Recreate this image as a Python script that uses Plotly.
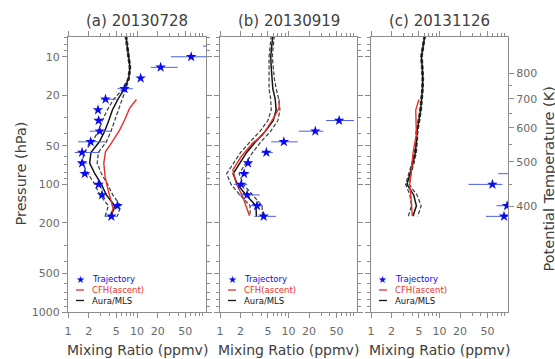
import plotly.graph_objects as go

# ---------------- data ----------------
mls_p = [6.81, 8.25, 10, 12.1, 14.7, 17.8, 21.5, 26.1, 31.6, 38.3, 46.4, 56.2, 68.1, 82.5, 100, 121, 147, 178]

mls_a = [6.9, 7.2, 7.5, 7.9, 7.6, 6.6, 5.3, 4.4, 3.9, 3.4, 2.85, 2.15, 2.06, 2.45, 3.05, 3.6, 4.75, 4.25]
mls_a_lo = [6.7, 7.0, 7.3, 7.7, 7.4, 6.3, 4.6, 3.7, 3.15, 2.75, 2.25, 1.7, 1.62, 1.95, 2.45, 2.9, 3.85, 3.45]
mls_a_hi = [7.1, 7.4, 7.7, 8.1, 7.8, 6.9, 6.0, 5.3, 4.8, 4.2, 3.6, 2.75, 2.65, 3.05, 3.75, 4.45, 5.8, 5.2]

mls_b = [5.9, 5.7, 5.5, 5.6, 5.7, 5.9, 6.4, 6.6, 6.0, 4.6, 3.3, 2.45, 1.95, 1.55, 1.8, 2.4, 3.35, 3.4]
mls_b_lo = [5.6, 5.4, 5.2, 5.2, 5.2, 5.2, 5.5, 5.6, 5.0, 3.85, 2.75, 2.0, 1.58, 1.25, 1.45, 1.95, 2.75, 2.75]
mls_b_hi = [6.2, 6.0, 5.8, 6.0, 6.2, 6.6, 7.2, 7.5, 7.0, 5.5, 3.95, 3.0, 2.4, 1.9, 2.2, 2.95, 4.1, 4.2]

mls_c = [6.1, 5.8, 5.45, 5.6, 5.7, 5.65, 5.5, 5.3, 5.0, 4.7, 4.6, 4.45, 4.1, 3.7, 3.35, 4.2, 4.6, 4.1]
mls_c_lo = [5.95, 5.65, 5.3, 5.45, 5.55, 5.5, 5.35, 5.15, 4.85, 4.55, 4.45, 4.3, 3.95, 3.55, 3.2, 3.7, 3.9, 3.5]
mls_c_hi = [6.25, 5.95, 5.6, 5.75, 5.85, 5.8, 5.65, 5.45, 5.15, 4.85, 4.75, 4.6, 4.25, 3.85, 3.6, 4.7, 5.4, 4.8]

cfh_a_p = [21.6, 25.4, 31.3, 37.6, 47.5, 55.3, 68, 87, 110, 132, 154, 176]
cfh_a = [9.8, 7.8, 6.6, 5.6, 4.25, 3.5, 3.3, 3.45, 3.8, 4.15, 4.5, 4.2]

cfh_b_p = [21.5, 25, 29.6, 35.4, 41.1, 47.5, 60.5, 76.9, 97.8, 124.8, 176]
cfh_b = [7.3, 7.3, 6.2, 4.96, 4.2, 3.0, 2.04, 1.54, 1.72, 2.15, 2.69]

cfh_c_p = [21.6, 26.2, 33, 41, 47.5, 57, 76.9, 100, 140, 176]
cfh_c = [5.0, 4.5, 4.55, 4.6, 4.35, 4.1, 3.9, 3.67, 3.9, 4.0]

traj_a_p = [8.25, 10, 12.1, 14.7, 17.8, 21.5, 26.1, 31.6, 38.3, 46.4, 56.2, 68.1, 82.5, 100, 121, 147, 178]
traj_a = [150, 61, 22, 11.3, 6.6, 3.5, 2.72, 2.78, 2.88, 2.13, 1.6, 1.6, 1.75, 2.78, 3.11, 5.19, 4.25]
traj_a_lo = [90, 31, 15.8, 10.6, 5.2, 3.0, 2.5, 2.5, 2.06, 1.40, 1.25, 1.4, 1.6, 2.4, 2.8, 4.3, 3.4]
traj_a_hi = [250, 140, 39, 12.0, 8.7, 5.0, 3.0, 3.2, 4.24, 3.48, 2.88, 1.9, 2.0, 3.2, 3.5, 6.0, 5.2]

traj_b_p = [31.6, 38.3, 46.4, 56.2, 68.1, 82.5, 100, 121, 147, 178]
traj_b = [54.8, 24.6, 8.55, 4.75, 2.57, 2.25, 2.04, 2.49, 3.47, 4.34]
traj_b_lo = [35.3, 14.1, 5.6, 4.0, 2.3, 2.0, 1.6, 1.85, 2.8, 3.18]
traj_b_hi = [90, 32.2, 13.6, 5.9, 2.9, 2.6, 2.5, 3.8, 4.2, 6.55]

traj_c_p = [82.5, 100, 147, 178]
traj_c = [130, 59.3, 97, 87.5]
traj_c_lo = [72, 26.6, 68, 47.6]
traj_c_hi = [250, 83, 130, 110]

titles = ["(a) 20130728", "(b) 20130919", "(c) 20131126"]
x_ticks = [1, 2, 5, 10, 20, 50]
x_minor = [3, 4, 6, 7, 8, 9, 30, 40, 60, 70, 80, 90]
p_ticks = [10, 20, 50, 100, 200, 500, 1000]
p_minor = [7, 8, 9, 30, 40, 60, 70, 80, 90, 300, 400, 600, 700, 800, 900]
theta_ticks = [400, 500, 600, 700, 800]
theta_tick_p = [147.7, 66.7, 36.0, 21.3, 13.4]
theta_minor_p = [100, 49, 27.7, 16.7]

# ---------------- styling ----------------
FONT = "DejaVu Sans"
BLUE = "#0a0af0"
EBLUE = "#4a5ee6"
RED = "#e8302a"
BLACK = "#151515"
DASH = "#3a3a3a"
AX = "#8c8c8c"
TXT = "#6a6a6a"

W, H = 555, 359
panels_px = [(68, 206), (220, 357), (371, 508)]
y_top_px, y_bot_px = 37, 312

fig = go.Figure()

panel_data = [
    (mls_a, mls_a_lo, mls_a_hi, cfh_a_p, cfh_a, traj_a_p, traj_a, traj_a_lo, traj_a_hi),
    (mls_b, mls_b_lo, mls_b_hi, cfh_b_p, cfh_b, traj_b_p, traj_b, traj_b_lo, traj_b_hi),
    (mls_c, mls_c_lo, mls_c_hi, cfh_c_p, cfh_c, traj_c_p, traj_c, traj_c_lo, traj_c_hi),
]

for i, (m, mlo, mhi, cp, cv, tp, tv, tlo, thi) in enumerate(panel_data):
    xa = "x" if i == 0 else f"x{i+1}"
    ya = "y" if i == 0 else f"y{i+1}"
    for arr in (mlo, mhi):
        fig.add_trace(go.Scatter(x=arr, y=mls_p, mode="lines", xaxis=xa, yaxis=ya,
                                 line=dict(color=DASH, width=1.2, dash="4px,2px"), showlegend=False))
    fig.add_trace(go.Scatter(x=m, y=mls_p, mode="lines", xaxis=xa, yaxis=ya,
                             line=dict(color=BLACK, width=1.5), showlegend=False))
    fig.add_trace(go.Scatter(x=cv, y=cp, mode="lines", xaxis=xa, yaxis=ya,
                             line=dict(color=RED, width=1.4), showlegend=False))
    fig.add_trace(go.Scatter(
        x=tv, y=tp, mode="markers", xaxis=xa, yaxis=ya,
        marker=dict(symbol="star", size=8, color=BLUE, line=dict(width=0)),
        error_x=dict(type="data", symmetric=False,
                     array=[h - v for h, v in zip(thi, tv)],
                     arrayminus=[v - l for v, l in zip(tv, tlo)],
                     color=EBLUE, thickness=1, width=0),
        showlegend=False))

layout = dict(width=W, height=H, margin=dict(l=0, r=0, t=0, b=0),
              paper_bgcolor="white", plot_bgcolor="white", showlegend=False,
              font=dict(family=FONT, color=TXT))

ydom = [1 - y_bot_px / H, 1 - y_top_px / H]
annotations = []
shapes = []
for i, (l, r) in enumerate(panels_px):
    xn = "xaxis" if i == 0 else f"xaxis{i+1}"
    yn = "yaxis" if i == 0 else f"yaxis{i+1}"
    ya = "y" if i == 0 else f"y{i+1}"
    xa = "x" if i == 0 else f"x{i+1}"
    layout[xn] = dict(domain=[l / W, r / W], anchor=ya, type="log", range=[0, 2],
                      tickvals=x_ticks, ticktext=[str(v) for v in x_ticks],
                      ticks="outside", ticklen=5, tickcolor=AX, showline=True, linecolor=AX,
                      linewidth=1, mirror="ticks", showgrid=False, zeroline=False,
                      ticklabelstandoff=4,
                      tickfont=dict(size=11, color=TXT, family=FONT),
                      minor=dict(tickvals=x_minor, ticks="outside", ticklen=3, tickcolor=AX),
                      automargin=False)
    layout[yn] = dict(domain=ydom, anchor=xa, type="log", range=[3, 0.845],
                      tickvals=p_ticks, ticktext=[str(v) for v in p_ticks],
                      showticklabels=(i == 0),
                      ticks="outside", ticklen=5, tickcolor=AX, showline=True, linecolor=AX,
                      linewidth=1, mirror=("ticks" if i < 2 else False), showgrid=False,
                      zeroline=False, tickfont=dict(size=11, color=TXT, family=FONT),
                      minor=dict(tickvals=p_minor, ticks="outside", ticklen=3, tickcolor=AX),
                      automargin=False)
    cx = (l + r) / 2 / W
    annotations.append(dict(text=titles[i], x=cx, y=1 - 21 / H, xref="paper", yref="paper",
                            xanchor="center", yanchor="middle", showarrow=False,
                            font=dict(size=15, color="#404040", family=FONT)))
    annotations.append(dict(text="Mixing Ratio (ppmv)", x=cx, y=1 - 350 / H, xref="paper",
                            yref="paper", xanchor="center", yanchor="middle", showarrow=False,
                            font=dict(size=14, color="#404040", family=FONT)))
    # legend
    rows = [(279, "Trajectory", BLUE), (290, "CFH(ascent)", RED), (300.5, "Aura/MLS", BLACK)]
    annotations.append(dict(text="★", x=(l + 12) / W, y=1 - 279 / H, xref="paper", yref="paper",
                            xanchor="center", yanchor="middle", showarrow=False,
                            font=dict(size=10, color=BLUE, family=FONT)))
    for yy, name, col in rows:
        annotations.append(dict(text=name, x=(l + 22) / W, y=1 - yy / H, xref="paper",
                                yref="paper", xanchor="left", yanchor="middle", showarrow=False,
                                font=dict(size=8.5, color=col, family=FONT)))
    for yy, col in [(290, RED), (300.5, BLACK)]:
        shapes.append(dict(type="line", xref="paper", yref="paper",
                           x0=(l + 8) / W, x1=(l + 16) / W, y0=1 - yy / H, y1=1 - yy / H,
                           line=dict(color=col, width=1.3)))

layout["yaxis4"] = dict(overlaying="y3", anchor="x3", side="right", type="log", range=[3, 0.845],
                        tickvals=theta_tick_p, ticktext=[str(v) for v in theta_ticks],
                        ticks="outside", ticklen=5, tickcolor=AX, showline=True, linecolor=AX,
                        linewidth=1, showgrid=False, zeroline=False,
                        tickfont=dict(size=11, color=TXT, family=FONT),
                        minor=dict(tickvals=theta_minor_p, ticks="outside", ticklen=3, tickcolor=AX),
                        automargin=False)

annotations.append(dict(text="Pressure (hPa)", x=20 / W, y=1 - 173.5 / H, xref="paper", yref="paper",
                        xanchor="center", yanchor="middle", textangle=-90, showarrow=False,
                        font=dict(size=14.5, color="#404040", family=FONT)))
annotations.append(dict(text="Potential Temperature (K)", x=548 / W, y=1 - 179.5 / H,
                        xref="paper", yref="paper", xanchor="center", yanchor="middle",
                        textangle=-90, showarrow=False,
                        font=dict(size=14.5, color="#404040", family=FONT)))
layout["annotations"] = annotations
layout["shapes"] = shapes

fig.update_layout(**layout)
fig.add_trace(go.Scatter(x=[None], y=[None], xaxis="x3", yaxis="y4", showlegend=False))

fig.write_html("out.html", config={"displayModeBar": False},
               post_script="document.body.style.margin='0px';document.body.style.overflow='hidden';")
